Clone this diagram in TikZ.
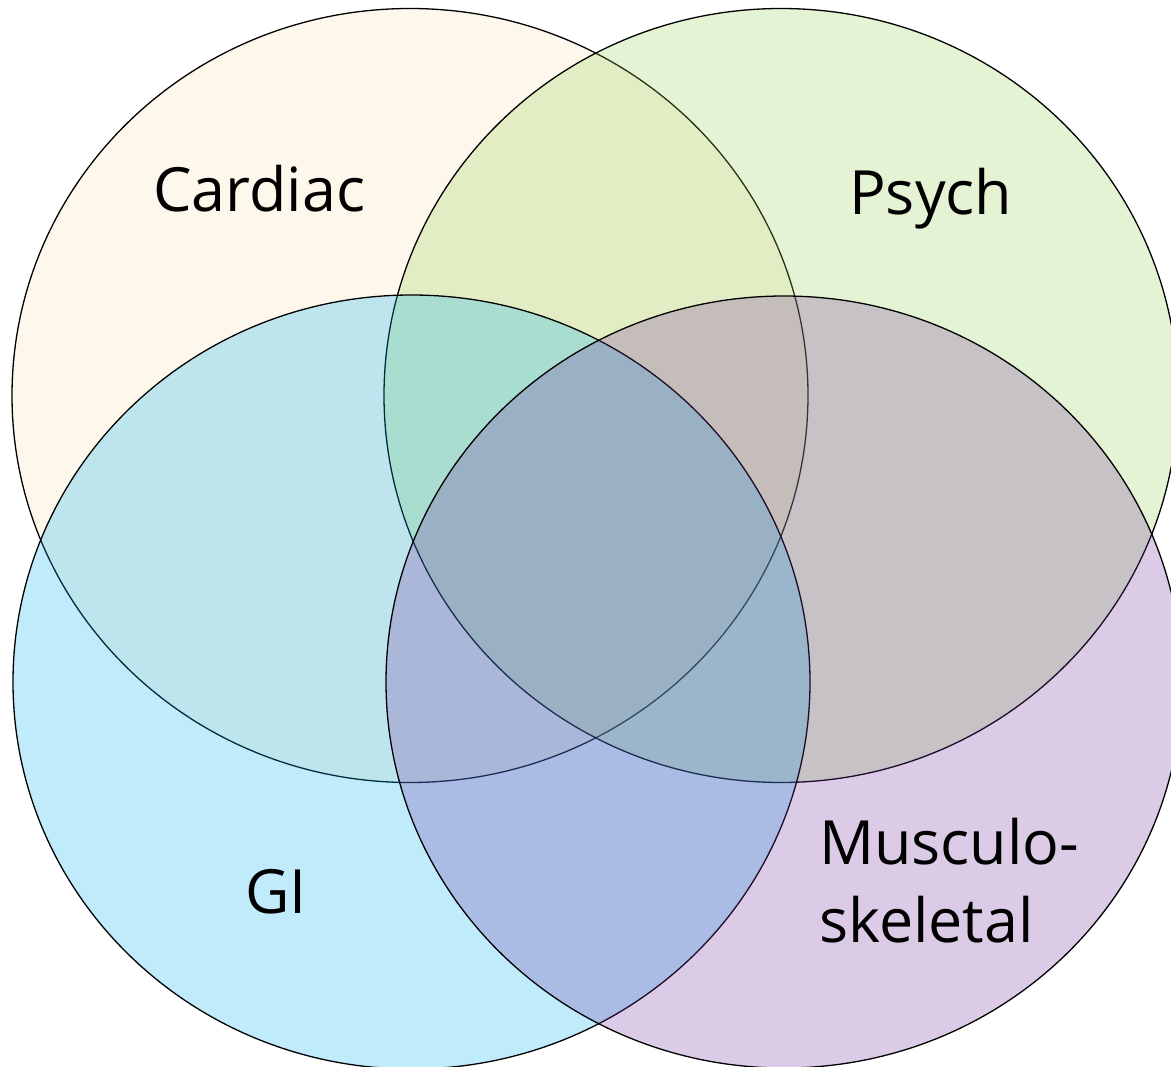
\documentclass[tikz,border=0pt]{standalone}
\usepackage{fontspec}
\setmainfont{Open Sans}
\definecolor{cardc}{RGB}{253,230,180}
\definecolor{psyc}{RGB}{146,208,80}
\definecolor{gic}{RGB}{0,176,240}
\definecolor{musc}{RGB}{112,48,160}
\tikzset{
  setblob/.style={draw=black, line width=1.3pt, fill opacity=0.25, draw opacity=1},
  lbl/.style={font=\fontsize{61}{78}\selectfont, text=black, inner sep=0pt, align=left}
}
\begin{document}
\begin{tikzpicture}[x=1pt,y=-1pt]
\useasboundingbox (0,0) rectangle (1171,1067);
\begin{scope}
\clip (0,0) rectangle (1171,1067);
\fill[white] (0,0) rectangle (1171,1067);
\draw[setblob, fill=cardc] (410,395.5) ellipse [x radius=398, y radius=387];
\draw[setblob, fill=psyc] (781,395.5) ellipse [x radius=397, y radius=387];
\draw[setblob, fill=gic] (411.5,682) ellipse [x radius=398.5, y radius=387];
\draw[setblob, fill=musc] (784,682) ellipse [x radius=398, y radius=386];
\end{scope}
\node[lbl, anchor=base west] (cardiac) at (153,212) {Cardiac};
\node[lbl, anchor=base west] (psych) at (849,215) {Psych};
\node[lbl, anchor=base west] (gi) at (245,913) {GI};
\node[lbl, anchor=base west] (musculo) at (819,942) {Musculo-\\skeletal};
\end{tikzpicture}
\end{document}
